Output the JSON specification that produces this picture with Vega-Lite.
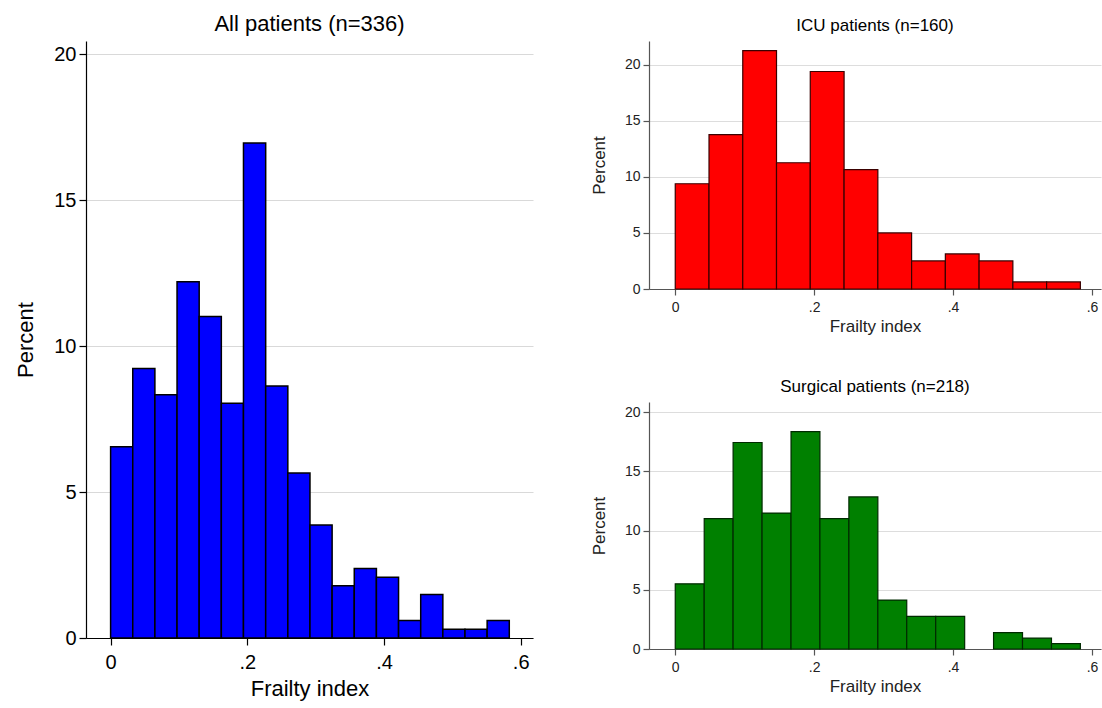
{
  "$schema": "https://vega.github.io/schema/vega-lite/v6.json",
  "background": "white",
  "padding": {"left": 14, "top": 13, "right": 3, "bottom": 5},
  "config": {
    "view": {"stroke": null},
    "font": "Liberation Sans",
    "title": {"font": "Liberation Sans", "fontWeight": "normal", "color": "#000000", "anchor": "middle"},
    "axis": {"labelFont": "Liberation Sans", "titleFont": "Liberation Sans", "titleFontWeight": "normal"}
  },
  "datasets": {
    "all": [
      {"bin_start": 0.0000, "bin_end": 0.0324, "percent": 6.55},
      {"bin_start": 0.0324, "bin_end": 0.0648, "percent": 9.23},
      {"bin_start": 0.0648, "bin_end": 0.0972, "percent": 8.33},
      {"bin_start": 0.0972, "bin_end": 0.1296, "percent": 12.20},
      {"bin_start": 0.1296, "bin_end": 0.1620, "percent": 11.01},
      {"bin_start": 0.1620, "bin_end": 0.1944, "percent": 8.04},
      {"bin_start": 0.1944, "bin_end": 0.2269, "percent": 16.96},
      {"bin_start": 0.2269, "bin_end": 0.2593, "percent": 8.63},
      {"bin_start": 0.2593, "bin_end": 0.2917, "percent": 5.65},
      {"bin_start": 0.2917, "bin_end": 0.3241, "percent": 3.87},
      {"bin_start": 0.3241, "bin_end": 0.3565, "percent": 1.79},
      {"bin_start": 0.3565, "bin_end": 0.3889, "percent": 2.38},
      {"bin_start": 0.3889, "bin_end": 0.4213, "percent": 2.08},
      {"bin_start": 0.4213, "bin_end": 0.4537, "percent": 0.60},
      {"bin_start": 0.4537, "bin_end": 0.4861, "percent": 1.49},
      {"bin_start": 0.4861, "bin_end": 0.5185, "percent": 0.30},
      {"bin_start": 0.5185, "bin_end": 0.5509, "percent": 0.30},
      {"bin_start": 0.5509, "bin_end": 0.5833, "percent": 0.60}
    ],
    "icu": [
      {"bin_start": 0.0000, "bin_end": 0.0486, "percent": 9.38},
      {"bin_start": 0.0486, "bin_end": 0.0972, "percent": 13.75},
      {"bin_start": 0.0972, "bin_end": 0.1458, "percent": 21.25},
      {"bin_start": 0.1458, "bin_end": 0.1944, "percent": 11.25},
      {"bin_start": 0.1944, "bin_end": 0.2431, "percent": 19.38},
      {"bin_start": 0.2431, "bin_end": 0.2917, "percent": 10.63},
      {"bin_start": 0.2917, "bin_end": 0.3403, "percent": 5.00},
      {"bin_start": 0.3403, "bin_end": 0.3889, "percent": 2.50},
      {"bin_start": 0.3889, "bin_end": 0.4375, "percent": 3.13},
      {"bin_start": 0.4375, "bin_end": 0.4861, "percent": 2.50},
      {"bin_start": 0.4861, "bin_end": 0.5347, "percent": 0.63},
      {"bin_start": 0.5347, "bin_end": 0.5833, "percent": 0.63}
    ],
    "surg": [
      {"bin_start": 0.0000, "bin_end": 0.0417, "percent": 5.50},
      {"bin_start": 0.0417, "bin_end": 0.0833, "percent": 11.01},
      {"bin_start": 0.0833, "bin_end": 0.1250, "percent": 17.43},
      {"bin_start": 0.1250, "bin_end": 0.1667, "percent": 11.47},
      {"bin_start": 0.1667, "bin_end": 0.2083, "percent": 18.35},
      {"bin_start": 0.2083, "bin_end": 0.2500, "percent": 11.01},
      {"bin_start": 0.2500, "bin_end": 0.2917, "percent": 12.84},
      {"bin_start": 0.2917, "bin_end": 0.3333, "percent": 4.13},
      {"bin_start": 0.3333, "bin_end": 0.3750, "percent": 2.75},
      {"bin_start": 0.3750, "bin_end": 0.4167, "percent": 2.75},
      {"bin_start": 0.4583, "bin_end": 0.5000, "percent": 1.38},
      {"bin_start": 0.5000, "bin_end": 0.5417, "percent": 0.92},
      {"bin_start": 0.5417, "bin_end": 0.5833, "percent": 0.46}
    ]
  },
  "spacing": 57,
  "hconcat": [
    {
      "width": 447,
      "height": 597,
      "title": {"text": "All patients (n=336)", "fontSize": 22, "offset": 5},
      "data": {"name": "all"},
      "mark": {"type": "rect", "fill": "#0000FF", "stroke": "#000000", "strokeWidth": 1.5},
      "encoding": {
        "x": {
          "field": "bin_start", "type": "quantitative",
          "scale": {"domain": [-0.036, 0.618], "nice": false, "zero": false},
          "axis": {
            "title": "Frailty index", "titleFontSize": 22, "titleColor": "#000000", "titlePadding": 6,
            "values": [0, 0.2, 0.4, 0.6],
            "labelExpr": "datum.value == 0 ? '0' : replace(format(datum.value, '.1f'), '0.', '.')",
            "labelFontSize": 20, "labelColor": "#000000", "labelPadding": 7,
            "grid": false, "domainColor": "#000000", "domainWidth": 1.2,
            "tickColor": "#000000", "tickSize": 7, "tickWidth": 1.2,
            "labelFlush": false, "labelOverlap": false
          }
        },
        "x2": {"field": "bin_end"},
        "y": {
          "field": "percent", "type": "quantitative",
          "scale": {"domain": [0, 20.45], "nice": false},
          "axis": {
            "title": "Percent", "titleFontSize": 22, "titleColor": "#000000", "titlePadding": 16,
            "values": [0, 5, 10, 15, 20],
            "labelFontSize": 20, "labelColor": "#000000", "labelPadding": 3,
            "grid": true, "gridColor": "#d9d9d9", "gridWidth": 1,
            "domainColor": "#000000", "domainWidth": 1.2,
            "tickColor": "#000000", "tickSize": 7, "tickWidth": 1.2,
            "labelFlush": false, "labelOverlap": false
          }
        },
        "y2": {"datum": 0}
      }
    },
    {
      "spacing": 44,
      "vconcat": [
        {
          "width": 452,
          "height": 248,
          "title": {"text": "ICU patients (n=160)", "fontSize": 17, "offset": 6},
          "data": {"name": "icu"},
          "mark": {"type": "rect", "fill": "#FF0000", "stroke": "#3a0000", "strokeWidth": 1.2},
          "encoding": {
            "x": {
              "field": "bin_start", "type": "quantitative",
              "scale": {"domain": [-0.0378, 0.613], "nice": false, "zero": false},
              "axis": {
                "title": "Frailty index", "titleFontSize": 17, "titleColor": "#222222", "titlePadding": 4,
                "values": [0, 0.2, 0.4, 0.6],
                "labelExpr": "datum.value == 0 ? '0' : replace(format(datum.value, '.1f'), '0.', '.')",
                "labelFontSize": 14, "labelColor": "#222222", "labelPadding": 5,
                "grid": false, "domainColor": "#555555", "domainWidth": 1.2,
                "tickColor": "#555555", "tickSize": 6, "tickWidth": 1.2,
                "labelFlush": false, "labelOverlap": false
              }
            },
            "x2": {"field": "bin_end"},
            "y": {
              "field": "percent", "type": "quantitative",
              "scale": {"domain": [0, 22.1], "nice": false},
              "axis": {
                "title": "Percent", "titleFontSize": 17, "titleColor": "#222222", "titlePadding": 16,
                "values": [0, 5, 10, 15, 20],
                "labelFontSize": 14, "labelColor": "#222222", "labelPadding": 3,
                "grid": true, "gridColor": "#dddddd", "gridWidth": 1,
                "domainColor": "#555555", "domainWidth": 1.2,
                "tickColor": "#555555", "tickSize": 6, "tickWidth": 1.2,
                "labelFlush": false, "labelOverlap": false
              }
            },
            "y2": {"datum": 0}
          }
        },
        {
          "width": 452,
          "height": 247,
          "title": {"text": "Surgical patients (n=218)", "fontSize": 17, "offset": 6},
          "data": {"name": "surg"},
          "mark": {"type": "rect", "fill": "#008000", "stroke": "#002a00", "strokeWidth": 1.2},
          "encoding": {
            "x": {
              "field": "bin_start", "type": "quantitative",
              "scale": {"domain": [-0.0378, 0.613], "nice": false, "zero": false},
              "axis": {
                "title": "Frailty index", "titleFontSize": 17, "titleColor": "#222222", "titlePadding": 4,
                "values": [0, 0.2, 0.4, 0.6],
                "labelExpr": "datum.value == 0 ? '0' : replace(format(datum.value, '.1f'), '0.', '.')",
                "labelFontSize": 14, "labelColor": "#222222", "labelPadding": 5,
                "grid": false, "domainColor": "#555555", "domainWidth": 1.2,
                "tickColor": "#555555", "tickSize": 6, "tickWidth": 1.2,
                "labelFlush": false, "labelOverlap": false
              }
            },
            "x2": {"field": "bin_end"},
            "y": {
              "field": "percent", "type": "quantitative",
              "scale": {"domain": [0, 20.85], "nice": false},
              "axis": {
                "title": "Percent", "titleFontSize": 17, "titleColor": "#222222", "titlePadding": 16,
                "values": [0, 5, 10, 15, 20],
                "labelFontSize": 14, "labelColor": "#222222", "labelPadding": 3,
                "grid": true, "gridColor": "#dddddd", "gridWidth": 1,
                "domainColor": "#555555", "domainWidth": 1.2,
                "tickColor": "#555555", "tickSize": 6, "tickWidth": 1.2,
                "labelFlush": false, "labelOverlap": false
              }
            },
            "y2": {"datum": 0}
          }
        }
      ]
    }
  ]
}
